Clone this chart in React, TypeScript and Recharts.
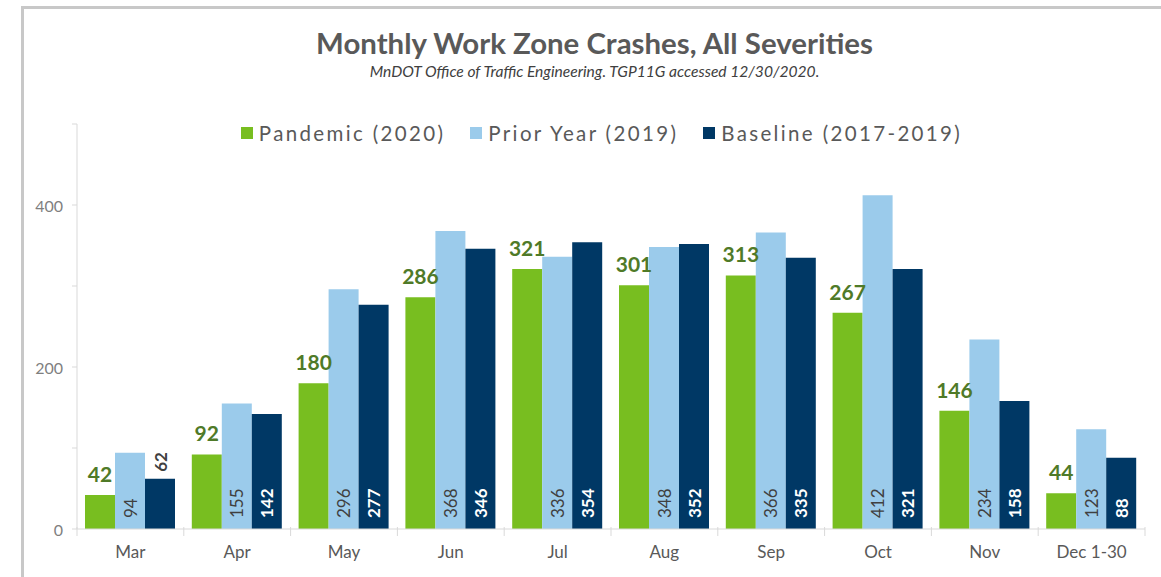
import { Bar, BarChart, Legend, LabelList, XAxis, YAxis } from "recharts"

const months = ["Mar", "Apr", "May", "Jun", "Jul", "Aug", "Sep", "Oct", "Nov", "Dec 1-30"]
const pandemic = [42, 92, 180, 286, 321, 301, 313, 267, 146, 44]
const priorYear = [94, 155, 296, 368, 336, 348, 366, 412, 234, 123]
const baseline = [62, 142, 277, 346, 354, 352, 335, 321, 158, 88]
const yTicks = [0, 100, 200, 300, 400, 500]

const data = months.map((month, i) => ({
    month,
    pandemic: pandemic[i],
    priorYear: priorYear[i],
    baseline: baseline[i],
}))

const GREEN = "#78BE20"
const LIGHT = "#9BCBEB"
const NAVY = "#003865"
const AXIS = "#D9D9D9"
const FONT = "Lato, 'Open Sans', sans-serif"
const X_TICK_MARGIN = 17

const series = [
    { key: "pandemic", label: "Pandemic (2020)", color: GREEN },
    { key: "priorYear", label: "Prior Year (2019)", color: LIGHT },
    { key: "baseline", label: "Baseline (2017-2019)", color: NAVY },
]

// green values sit above the bar
const TopLabel = (props: any) => {
    const { x, y, width, value } = props
    return (
        <text
            x={x + width / 2}
            y={y - 13}
            textAnchor="middle"
            fill="#4F7A28"
            fontSize={21}
            fontWeight="bold"
            fontFamily={FONT}
        >
            {value}
        </text>
    )
}

// rotated values at the base of the bar, or above it if the bar is short
const makeBaseLabel = (inside: string, outside: string, weight: string) => (props: any) => {
    const { x, y, width, height, value } = props
    const cx = x + width / 2
    const fits = height > 60
    const ty = fits ? y + height - 11 : y - 7
    return (
        <g transform={`translate(${cx} ${ty}) rotate(-90)`}>
            <text
                x={0}
                y={0}
                textAnchor="start"
                dominantBaseline="central"
                fill={fits ? inside : outside}
                fontSize={17}
                fontWeight={weight}
                fontFamily={FONT}
            >
                {value}
            </text>
        </g>
    )
}

// category label plus Excel-style tick marks between categories
const XTick = (props: any) => {
    const { x, y, payload, index, width, visibleTicksCount } = props
    const band = width / visibleTicksCount
    const axisY = y - X_TICK_MARGIN
    const left = x - band / 2
    return (
        <g>
            <line x1={left} x2={left} y1={axisY - 2} y2={axisY + 7} stroke={AXIS} />
            {index === visibleTicksCount - 1 && (
                <line x1={left + band} x2={left + band} y1={axisY - 2} y2={axisY + 7} stroke={AXIS} />
            )}
            <text x={x} y={y} dy="0.71em" textAnchor="middle" fill="#595959" fontSize={17} fontFamily={FONT}>
                {payload.value}
            </text>
        </g>
    )
}

const YTick = (props: any) => {
    const { x, y, payload } = props
    if (payload.value % 200 !== 0) return <g />
    return (
        <text x={x} y={y} textAnchor="end" dominantBaseline="central" fill="#7F7F7F" fontSize={16} fontFamily={FONT}>
            {payload.value}
        </text>
    )
}

const LegendContent = () => (
    <div style={{ display: "flex", justifyContent: "center", gap: 25, fontFamily: FONT, paddingLeft: 42 }}>
        {series.map((s) => (
            <div key={s.key} style={{ display: "flex", alignItems: "center" }}>
                <span style={{ width: 12, height: 12, background: s.color, marginRight: 6, display: "inline-block" }} />
                <span style={{ fontSize: 20.5, color: "#595959", letterSpacing: 2.35 }}>{s.label}</span>
            </div>
        ))}
    </div>
)

export default function App() {
    return (
        <div style={{ position: "fixed", left: 0, top: 0, width: 1161, height: 577, background: "#fff", overflow: "hidden" }}>
            <div
                style={{
                    position: "absolute",
                    left: 21,
                    top: 6,
                    right: -10,
                    bottom: -10,
                    borderTop: "3px solid #C8C8C8",
                    borderLeft: "3px solid #C8C8C8",
                }}
            />
            <div
                style={{
                    position: "absolute",
                    left: 0,
                    width: 1161,
                    top: 25,
                    textAlign: "center",
                    fontFamily: FONT,
                    fontWeight: "bold",
                    fontSize: 29.4,
                    color: "#595959",
                    paddingLeft: 28,
                    boxSizing: "border-box",
                }}
            >
                Monthly Work Zone Crashes, All Severities
            </div>
            <div
                style={{
                    position: "absolute",
                    left: 0,
                    width: 1161,
                    top: 62,
                    textAlign: "center",
                    fontFamily: FONT,
                    fontStyle: "italic",
                    fontSize: 15.6,
                    color: "#404040",
                    paddingLeft: 28,
                    boxSizing: "border-box",
                }}
            >
                MnDOT Office of Traffic Engineering. TGP11G accessed 12/30/2020.
            </div>
            <BarChart
                width={1161}
                height={577}
                data={data}
                margin={{ top: 124, right: 16, bottom: 0, left: 27 }}
                barCategoryGap={8}
                barGap={0}
                style={{ position: "absolute", left: 0, top: 0 }}
            >
                <XAxis
                    dataKey="month"
                    height={48}
                    interval={0}
                    axisLine={{ stroke: AXIS }}
                    tickLine={false}
                    tickSize={0}
                    tickMargin={X_TICK_MARGIN}
                    tick={<XTick />}
                />
                <YAxis
                    width={50}
                    domain={[0, 500]}
                    ticks={yTicks}
                    interval={0}
                    axisLine={{ stroke: AXIS }}
                    tickLine={{ stroke: AXIS }}
                    tickSize={5}
                    tickMargin={9}
                    tick={<YTick />}
                />
                <Legend
                    verticalAlign="middle"
                    align="center"
                    layout="horizontal"
                    content={<LegendContent />}
                    wrapperStyle={{ top: 121, left: 0, width: 1161 }}
                />
                <Bar dataKey="pandemic" fill={GREEN} isAnimationActive={false}>
                    <LabelList dataKey="pandemic" content={<TopLabel />} />
                </Bar>
                <Bar dataKey="priorYear" fill={LIGHT} isAnimationActive={false}>
                    <LabelList dataKey="priorYear" content={makeBaseLabel("#404040", "#404040", "normal")} />
                </Bar>
                <Bar dataKey="baseline" fill={NAVY} isAnimationActive={false}>
                    <LabelList dataKey="baseline" content={makeBaseLabel("#FFFFFF", "#404040", "bold")} />
                </Bar>
            </BarChart>
        </div>
    )
}
